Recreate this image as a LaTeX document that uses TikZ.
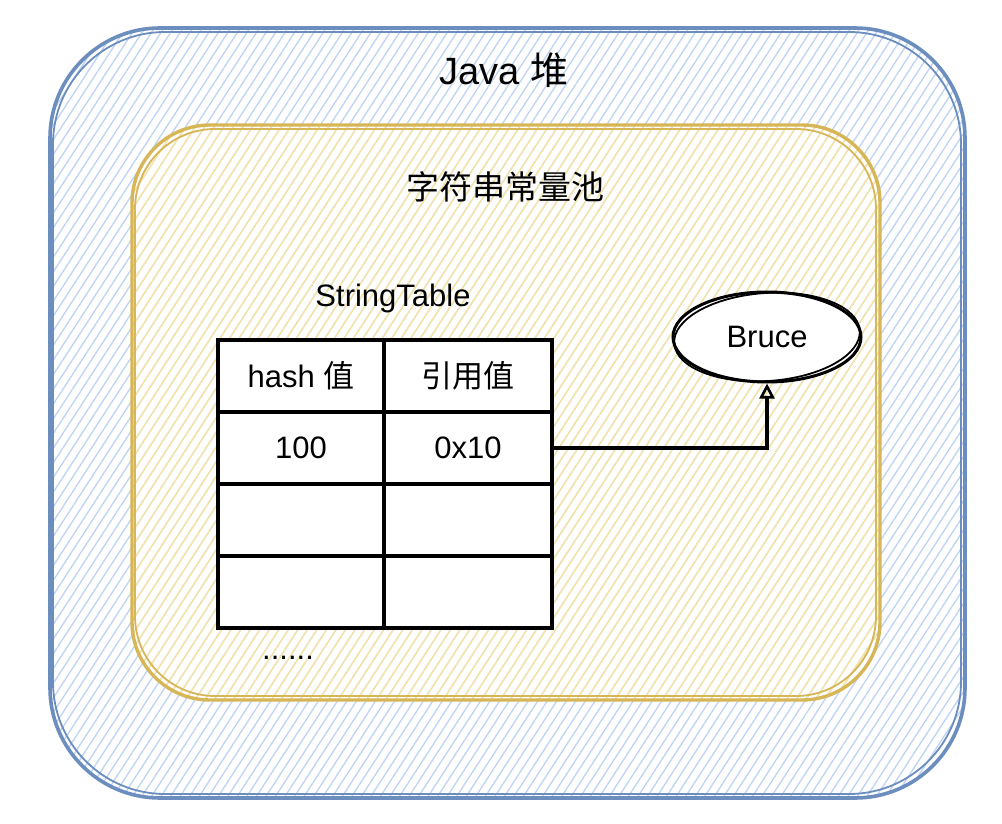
\documentclass[tikz,border=0pt]{standalone}
\usepackage{fontspec}
\setmainfont{Liberation Sans}
\newfontfamily\cjk{Noto Sans CJK SC}
\usetikzlibrary{patterns.meta,shapes.geometric,arrows.meta}
\definecolor{bluestroke}{HTML}{6C8EBF}
\definecolor{bluehatch}{HTML}{BED3F3}
\definecolor{yellowstroke}{HTML}{D6B656}
\definecolor{yellowhatch}{HTML}{F9E4A0}
\tikzset{
  outerbox/.style={draw=bluestroke, line width=3.6pt, rounded corners=110pt,
    pattern={Lines[angle=57,distance=8pt,line width=1.3pt]}, pattern color=bluehatch},
  innerbox/.style={draw=yellowstroke, line width=3.4pt, rounded corners=78pt,
    pattern={Lines[angle=57,distance=8pt,line width=1.3pt]}, pattern color=yellowhatch},
  cell/.style={draw=black, fill=white, line width=3.2pt, minimum width=166pt,
    minimum height=72pt, inner sep=0pt, font=\fontsize{31}{36}\selectfont,
    postaction={draw, line width=1.6pt, xshift=-1.5pt, yshift=1.2pt}},
  lbl/.style={inner sep=0pt, text=black},
  conn/.style={draw=black, line width=3.2pt, -{Triangle[open,length=15pt,width=15pt,line width=2.6pt]}},
}
\begin{document}
\begin{tikzpicture}[x=1pt,y=-1pt]
\useasboundingbox (0,0) rectangle (1002,824);
\fill[white] (0,0) rectangle (1002,824);
% outer box
\path[outerbox] (50,28) rectangle (965,798);
\draw[bluestroke, line width=1.8pt, rounded corners=112pt] (53,32) rectangle (961,794);
% inner box
\path[innerbox] (132,125) rectangle (880,700);
\draw[yellowstroke, line width=1.8pt, rounded corners=80pt] (135,129) rectangle (876,696);
% titles
\node[lbl, font=\fontsize{38}{44}\selectfont] (java) at (504,70) {Java {\cjk 堆}};
\node[lbl, font=\fontsize{33}{38}\selectfont] (pool) at (505,187) {\cjk 字符串常量池};
\node[lbl, font=\fontsize{31}{36}\selectfont] (st) at (393,298) {StringTable};
% table
\node[cell] (a1) at (301,376) {hash {\cjk 值}};
\node[cell, minimum width=168pt] (b1) at (468,376) {\cjk 引用值};
\node[cell] (a2) at (301,448) {100};
\node[cell, minimum width=168pt] (b2) at (468,448) {0x10};
\node[cell] (a3) at (301,520) {};
\node[cell, minimum width=168pt] (b3) at (468,520) {};
\node[cell] (a4) at (301,592) {};
\node[cell, minimum width=168pt] (b4) at (468,592) {};
\node[lbl, font=\fontsize{31}{36}\selectfont] (dots) at (288,658) {......};
% ellipse
\node[ellipse, draw=black, fill=white, line width=3pt, minimum width=188pt,
  minimum height=90pt, inner sep=0pt, font=\fontsize{31}{36}\selectfont] (bruce) at (767,337) {Bruce};
\draw[black, line width=1.8pt, rotate around={4:(bruce.center)}] (bruce.center) ellipse [x radius=93pt, y radius=44pt];
% connector
\draw[conn] (b2.east) -- (b2.east -| bruce.south) -- (bruce.south);
\end{tikzpicture}
\end{document}
